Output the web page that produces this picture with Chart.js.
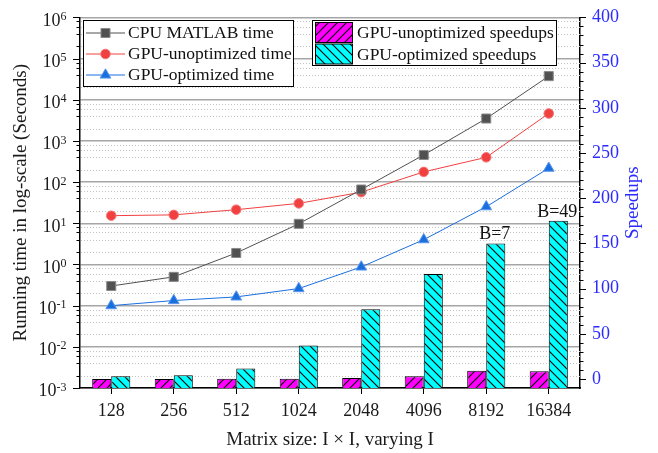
<!DOCTYPE html>
<html>
<head>
<meta charset="utf-8">
<script src="https://cdn.jsdelivr.net/npm/chart.js@4.4.1/dist/chart.umd.min.js"></script>
<style>
  html, body { margin: 0; padding: 0; background: #fff; }
</style>
</head>
<body>
<canvas id="chart" width="658" height="453"></canvas>
<script>
const SERIF = '"Liberation Serif", "Times New Roman", serif';

// matrix sizes (I) on the x axis
const sizes = ["128", "256", "512", "1024", "2048", "4096", "8192", "16384"];
// running times in seconds (left, log axis)
const cpuTime = [0.3, 0.5, 1.9, 9.7, 66, 457, 3500, 37500];
const gpuUnoptTime = [15.3, 16, 21.4, 30.4, 57, 177, 400, 4640];
const gpuOptTime = [0.1, 0.133, 0.163, 0.26, 0.87, 4.0, 25.3, 218];
// speedups over the CPU version (right axis)
const unoptSpeedup = [0.02, 0.03, 0.1, 0.3, 1.2, 3, 9, 8.5];
const optSpeedup = [3, 4, 11.5, 37, 77, 116, 150, 175];
// block-size notes written over the optimized bars
const blockNotes = [null, null, null, null, null, null, "B=7", "B=49"];
// axis ticks
const timeDecades = [-3, -2, -1, 0, 1, 2, 3, 4, 5, 6];
const timeMinor = [2, 4, 6, 8];
const speedupTicks = [0, 50, 100, 150, 200, 250, 300, 350, 400];

const SPEED_MIN = -10;
const AXIS_BLUE = '#2b2bff';

const isDecade = v => Math.abs(Math.log10(v) - Math.round(Math.log10(v))) < 1e-9;

const canvas = document.getElementById('chart');
const ctx = canvas.getContext('2d');

// diagonal hatch fill: dir > 0 draws "/", otherwise "\"
function hatch(bg, dir) {
  const s = 9;
  const c = document.createElement('canvas');
  c.width = s; c.height = s;
  const g = c.getContext('2d');
  g.fillStyle = bg;
  g.fillRect(0, 0, s, s);
  g.strokeStyle = '#000';
  g.lineWidth = 1.1;
  g.beginPath();
  if (dir > 0) {
    g.moveTo(0, s); g.lineTo(s, 0);
    g.moveTo(-1, 1); g.lineTo(1, -1);
    g.moveTo(s - 1, s + 1); g.lineTo(s + 1, s - 1);
  } else {
    g.moveTo(0, 0); g.lineTo(s, s);
    g.moveTo(s - 1, -1); g.lineTo(s + 1, 1);
    g.moveTo(-1, s - 1); g.lineTo(1, s + 1);
  }
  g.stroke();
  return ctx.createPattern(c, 'repeat');
}

const magentaHatch = hatch('#ff00ff', 1);
const cyanHatch = hatch('#00ffff', -1);

const lineSet = (label, data, color, edge, style, radius) => ({
  type: 'line',
  label,
  data,
  yAxisID: 'y',
  order: 0,
  borderColor: color,
  borderWidth: 1,
  backgroundColor: color,
  pointStyle: style,
  pointRadius: radius,
  pointBackgroundColor: color,
  pointBorderColor: edge,
  pointBorderWidth: 1,
  tension: 0
});

const barSet = (label, data, fill) => ({
  type: 'bar',
  label,
  data,
  yAxisID: 'y1',
  order: 1,
  base: SPEED_MIN,
  backgroundColor: fill,
  borderColor: '#000',
  borderWidth: 1,
  barPercentage: 1,
  categoryPercentage: 0.61
});

const datasets = [
  lineSet('CPU MATLAB time', cpuTime, '#515151', '#8a8a8a', 'rect', 6.4),
  lineSet('GPU-unoptimized time', gpuUnoptTime, '#f14040', '#f47a7a', 'circle', 4.8),
  lineSet('GPU-optimized time', gpuOptTime, '#1a6fdf', '#5b97ea', 'triangle', 6.2),
  barSet('GPU-unoptimized speedups', unoptSpeedup, magentaHatch),
  barSet('GPU-optimized speedups', optSpeedup, cyanHatch)
];

function drawLegends(chart) {
  const c = chart.ctx;
  const ds = chart.data.datasets;
  c.save();
  c.font = `17.5px ${SERIF}`;
  c.textBaseline = 'middle';
  c.textAlign = 'left';
  c.lineWidth = 1;

  // line legend
  c.fillStyle = '#fff';
  c.fillRect(83.5, 20.5, 210, 66);
  c.strokeStyle = '#000';
  c.strokeRect(83.5, 20.5, 210, 66);
  [0, 1, 2].forEach((i, k) => {
    const d = ds[i];
    const y = 33 + k * 21;
    c.strokeStyle = d.borderColor;
    c.lineWidth = 1;
    c.beginPath();
    c.moveTo(86, y); c.lineTo(125, y);
    c.stroke();
    c.fillStyle = d.pointBackgroundColor;
    c.strokeStyle = d.pointBorderColor;
    Chart.helpers.drawPoint(c, { pointStyle: d.pointStyle, radius: d.pointRadius, rotation: 0, borderWidth: 1 }, 105.5, y);
    c.fillStyle = '#111';
    c.fillText(d.label, 128, y + 0.5);
  });

  // bar legend
  c.fillStyle = '#fff';
  c.fillRect(312.5, 20.5, 244, 45);
  c.strokeStyle = '#000';
  c.strokeRect(312.5, 20.5, 244, 45);
  [3, 4].forEach((i, k) => {
    const d = ds[i];
    const top = 22.5 + k * 21.5;
    c.fillStyle = d.backgroundColor;
    c.fillRect(315.5, top, 37, 20);
    c.strokeStyle = '#000';
    c.strokeRect(315.5, top, 37, 20);
    c.fillStyle = '#111';
    c.fillText(d.label, 357, top + 11);
  });
  c.restore();
}

const decor = {
  id: 'decor',
  beforeDatasetsDraw(chart) {
    // dotted minor grid of the time axis
    const { ctx: c, chartArea: a, scales: { y } } = chart;
    c.save();
    c.strokeStyle = '#c2c2c2';
    c.lineWidth = 1;
    c.setLineDash([1, 2]);
    y.ticks.forEach(t => {
      if (isDecade(t.value)) return;
      const py = Math.round(y.getPixelForValue(t.value)) + 0.5;
      c.beginPath();
      c.moveTo(a.left + 1, py);
      c.lineTo(a.right, py);
      c.stroke();
    });
    c.restore();
  },
  afterDatasetsDraw(chart) {
    const c = chart.ctx;
    const { y, y1 } = chart.scales;
    const a = chart.chartArea;
    c.save();
    c.strokeStyle = '#000';
    c.lineWidth = 1;

    // outward tick marks on both value axes
    y.ticks.forEach(t => {
      const py = Math.round(y.getPixelForValue(t.value)) + 0.5;
      const len = isDecade(t.value) ? 7 : 3.5;
      c.beginPath(); c.moveTo(a.left - len, py); c.lineTo(a.left, py); c.stroke();
    });
    y1.ticks.forEach(t => {
      const py = Math.round(y1.getPixelForValue(t.value)) + 0.5;
      const len = t.value % 50 === 0 ? 6 : 3.5;
      c.beginPath(); c.moveTo(a.right, py); c.lineTo(a.right + len, py); c.stroke();
    });

    // 10^n labels of the time axis
    c.fillStyle = '#1a1a1a';
    c.textAlign = 'left';
    c.textBaseline = 'alphabetic';
    timeDecades.forEach(d => {
      const py = y.getPixelForValue(Math.pow(10, d));
      const exp = d < 0 ? '-' + (-d) : String(d);
      c.font = `18px ${SERIF}`;
      const wb = c.measureText('10').width;
      c.font = `12px ${SERIF}`;
      const we = c.measureText(exp).width;
      const x0 = 66.5 - wb - we;
      c.font = `18px ${SERIF}`;
      c.fillText('10', x0, py + 8.3);
      c.font = `12px ${SERIF}`;
      c.fillText(exp, x0 + wb, py + 2.6);
    });

    // right axis title, reading bottom to top
    c.save();
    c.translate(633, (a.top + a.bottom) / 2);
    c.rotate(-Math.PI / 2);
    c.font = `19px ${SERIF}`;
    c.fillStyle = AXIS_BLUE;
    c.textAlign = 'center';
    c.textBaseline = 'middle';
    c.fillText('Speedups', 0, 0);
    c.restore();

    // block-size notes above the optimized bars
    const meta = chart.getDatasetMeta(4);
    c.font = `18px ${SERIF}`;
    c.fillStyle = '#111';
    c.textAlign = 'center';
    c.textBaseline = 'alphabetic';
    blockNotes.forEach((note, i) => {
      if (!note) return;
      const bar = meta.data[i];
      c.fillText(note, bar.x - 1, bar.y - 4);
    });
    c.restore();

    drawLegends(chart);
  }
};

new Chart(canvas, {
  type: 'bar',
  data: { labels: sizes, datasets },
  plugins: [decor],
  options: {
    responsive: false,
    animation: false,
    events: [],
    layout: { padding: { top: 16, left: 0, right: 0, bottom: 0 } },
    plugins: { legend: { display: false }, tooltip: { enabled: false } },
    scales: {
      x: {
        type: 'category',
        offset: true,
        grid: { drawOnChartArea: false, drawTicks: true, tickLength: 6, color: '#000', offset: false },
        border: { display: true, color: '#000', width: 1.5 },
        ticks: { color: '#1a1a1a', font: { family: SERIF, size: 18 }, padding: 6, maxRotation: 0, autoSkip: false },
        title: { display: true, text: 'Matrix size: I \u00d7 I, varying I', color: '#1a1a1a', font: { family: SERIF, size: 19 }, padding: { top: 0, bottom: 2 } },
        afterFit: s => { s.height = 65; }
      },
      y: {
        type: 'logarithmic',
        position: 'left',
        min: 1e-3,
        max: 1e6,
        afterBuildTicks: s => {
          const t = [];
          timeDecades.forEach(d => {
            t.push({ value: Math.pow(10, d) });
            if (d < timeDecades[timeDecades.length - 1]) timeMinor.forEach(m => t.push({ value: m * Math.pow(10, d) }));
          });
          s.ticks = t;
        },
        grid: {
          drawTicks: false,
          lineWidth: 1.5,
          color: c => (c.tick && isDecade(c.tick.value) ? '#a6a6a6' : 'rgba(0,0,0,0)')
        },
        border: { display: true, color: '#000', width: 1.5 },
        ticks: { display: false },
        title: { display: true, text: 'Running time in log-scale (Seconds)', color: '#1a1a1a', font: { family: SERIF, size: 19 }, padding: { top: 10, bottom: 0 } },
        afterFit: s => { s.width = 80; }
      },
      y1: {
        type: 'linear',
        position: 'right',
        min: SPEED_MIN,
        max: 400,
        afterBuildTicks: s => {
          const t = [];
          speedupTicks.forEach((v, i) => {
            t.push({ value: v });
            const next = speedupTicks[i + 1];
            if (next !== undefined) for (let m = v + 10; m < next; m += 10) t.push({ value: m });
          });
          s.ticks = t;
        },
        grid: { drawOnChartArea: false, drawTicks: false },
        border: { display: true, color: '#000', width: 1.5 },
        ticks: {
          autoSkip: false,
          padding: 12,
          color: AXIS_BLUE,
          font: { family: SERIF, size: 18, lineHeight: 0.6 },
          callback: v => (speedupTicks.includes(v) ? String(v) : '')
        },
        afterFit: s => { s.width = 78; }
      }
    }
  }
});
</script>
</body>
</html>
